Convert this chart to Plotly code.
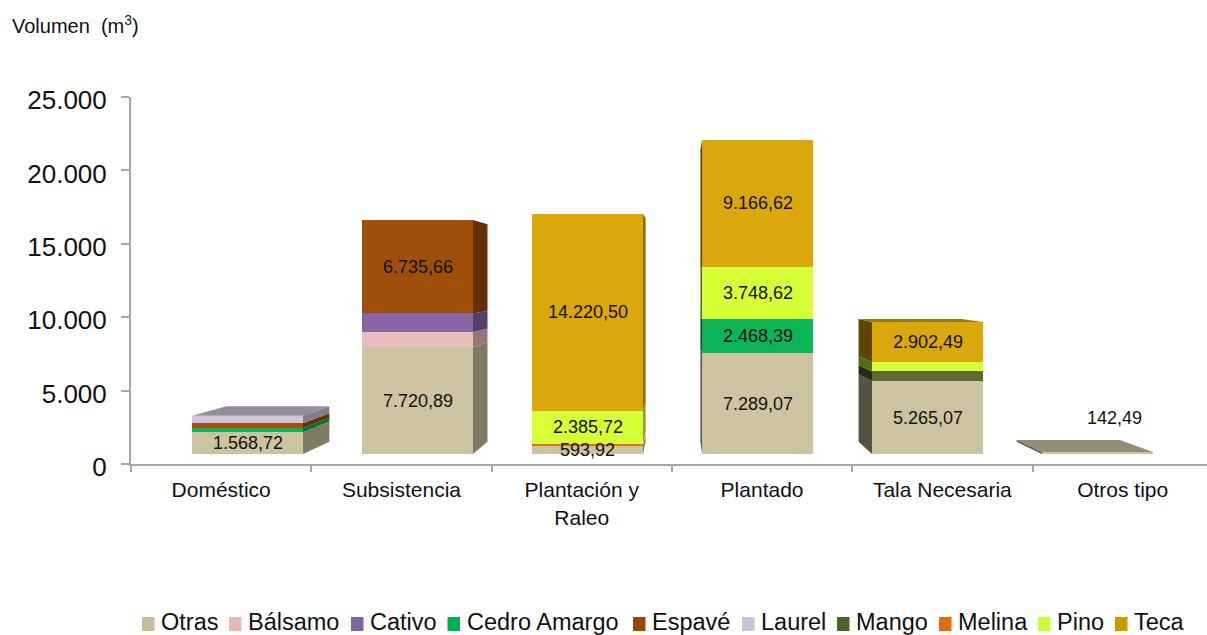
import plotly.graph_objects as go

W, H = 1207, 635
PLOT_L, PLOT_R, PLOT_T, PLOT_B = 131, 1207, 97, 464

categories = ["Doméstico", "Subsistencia", "Plantación y<br>Raleo", "Plantado", "Tala Necesaria", "Otros tipo"]
series_names = ["Otras", "Bálsamo", "Cativo", "Cedro Amargo", "Espavé", "Laurel", "Mango", "Melina", "Pino", "Teca"]

otras = [1568.72, 7720.89, 593.92, 7289.07, 5265.07, 142.49]
balsamo = [0, 1080, 0, 0, 0, 0]
cativo = [0, 1350, 0, 0, 0, 0]
cedro = [300, 0, 0, 2468.39, 0, 0]
espave = [350, 6735.66, 0, 0, 0, 0]
laurel = [550, 0, 0, 0, 0, 0]
mango = [0, 0, 0, 0, 700, 0]
melina = [0, 0, 150, 0, 0, 0]
pino = [0, 0, 2385.72, 3748.62, 670, 0]
teca = [0, 0, 14220.50, 9166.62, 2902.49, 0]
all_values = [otras, balsamo, cativo, cedro, espave, laurel, mango, melina, pino, teca]

# Values printed on the chart: estimated segments carry no label
labelled = [otras, [0] * 6, [0] * 6, [0, 0, 0, 2468.39, 0, 0],
            [0, 6735.66, 0, 0, 0, 0], [0] * 6, [0] * 6, [0] * 6,
            [0, 0, 2385.72, 3748.62, 0, 0], teca]

bar_colors = ["#CCC4A0", "#EBBCBC", "#8664A6", "#0CB558", "#A04F0B", "#CFC4DC", "#5C6B30", "#E8700C", "#D6FF36", "#DAA80D"]
legend_colors = ["#C8BF97", "#E6B8B7", "#8064A2", "#00B050", "#984807", "#CCC1DA", "#4F6228", "#E46C0A", "#CCFF33", "#CC9900"]
legend_square_px = [142, 229, 351, 447.5, 633, 742, 837, 939, 1038, 1115]

# Front plane of the pseudo-3D chart (its own scale, pixel-fitted to the picture)
CAT_PX, FRONT0_PX = 170.0, 247.5
VAL_PX, BASE_PX = 0.01385, 454.0
BAR_W = 0.653
VP_X = (680 - FRONT0_PX) / CAT_PX
VP_Y = (BASE_PX - 280) / VAL_PX
DEPTH = 0.07


def shade(col, f):
    c = col.lstrip("#")
    return "#%02X%02X%02X" % tuple(int(int(c[i:i + 2], 16) * f) for i in (0, 2, 4))


def back(x, y):
    return x + DEPTH * (VP_X - x), y + DEPTH * (VP_Y - y)


def fx(px):
    return (px - PLOT_L) / (PLOT_R - PLOT_L)


def fy(py):
    return (PLOT_B - py) / (PLOT_B - PLOT_T)


fig = go.Figure()

# Carrier of the visible category axis
fig.add_trace(go.Scatter(x=categories, y=[0] * 6, mode="lines", line=dict(width=0),
                         hoverinfo="skip", showlegend=False, xaxis="x", yaxis="y"))

# Front faces
for name, vals, col in zip(series_names, all_values, bar_colors):
    fig.add_trace(go.Bar(x=list(range(6)), y=vals, name=name, width=BAR_W, marker=dict(color=col, line=dict(width=0)),
                         xaxis="x2", yaxis="y2", showlegend=False))

# Perspective faces derived from the stacked values
annotations = []
cum = [0.0] * 6
heights = [sum(s[i] for s in all_values) for i in range(6)]
for name, vals, shown, col in zip(series_names, all_values, labelled, bar_colors):
    polys = {"right": ([], [], 0.63), "left": ([], [], 0.42), "top": ([], [], 0.72)}
    for i, v in enumerate(vals):
        lo, hi = cum[i], cum[i] + v
        cum[i] = hi
        if v == 0:
            continue
        xl, xr = i - BAR_W / 2, i + BAR_W / 2
        if xr < VP_X:
            edge, kind = xr, "right"
        elif xl > VP_X:
            edge, kind = xl, "left"
        else:
            edge = None
        if edge is not None:
            b1, b2 = back(edge, lo), back(edge, hi)
            polys[kind][0].extend([edge, b1[0], b2[0], edge, edge, None])
            polys[kind][1].extend([lo, b1[1], b2[1], hi, lo, None])
        if hi >= heights[i] - 1e-6 and hi < VP_Y:
            b1, b2 = back(xl, hi), back(xr, hi)
            polys["top"][0].extend([xl, b1[0], b2[0], xr, xl, None])
            polys["top"][1].extend([hi, b1[1], b2[1], hi, hi, None])
        if shown[i]:
            label = f"{shown[i]:,.2f}".replace(",", "#").replace(".", ",").replace("#", ".")
            isolated = heights[i] < 1000
            annotations.append(dict(x=i, y=lo + v / 2, xref="x2", yref="y2", text=label, showarrow=False,
                                    xshift=17 if isolated else 0, yshift=35 if isolated else 0,
                                    font=dict(size=18, color="#111111", family="Liberation Sans")))
    for kind, (xs, ys, f) in polys.items():
        if xs:
            fig.add_trace(go.Scatter(x=xs, y=ys, mode="lines", fill="toself", fillcolor=shade(col, f),
                                     line=dict(width=0), hoverinfo="skip", showlegend=False,
                                     xaxis="x2", yaxis="y2"))

# Unit label
annotations.append(dict(x=fx(10), y=fy(24), xref="paper", yref="paper", xanchor="left", yanchor="middle",
                        text="Volumen&nbsp;&nbsp;(m<sup>3</sup>)", showarrow=False,
                        font=dict(size=20, color="#111111", family="Liberation Sans")))

# Legend row
shapes = []
for name, col, px in zip(series_names, legend_colors, legend_square_px):
    shapes.append(dict(type="rect", xref="paper", yref="paper", x0=fx(px), x1=fx(px + 12.5),
                       y0=fy(631), y1=fy(617), fillcolor=col, line=dict(width=0)))
    annotations.append(dict(x=fx(px + 17), y=fy(622), xref="paper", yref="paper", xanchor="left", yanchor="middle",
                            text=name, showarrow=False,
                            font=dict(size=23.5, color="#111111", family="Liberation Sans")))

AXIS = "#A6A6A6"
fig.update_layout(
    width=W, height=H, autosize=False,
    margin=dict(l=PLOT_L, r=W - PLOT_R, t=PLOT_T, b=H - PLOT_B, pad=0),
    paper_bgcolor="white", plot_bgcolor="white",
    barmode="stack", showlegend=False, separators=",.",
    font=dict(family="Liberation Sans", color="#111111"),
    annotations=annotations, shapes=shapes,
    xaxis=dict(type="category", categoryorder="array", categoryarray=categories,
               range=[-0.5, -0.5 + (PLOT_R - PLOT_L) / 180.3], tickson="boundaries",
               ticks="outside", ticklen=6, tickwidth=2, tickcolor=AXIS,
               showline=True, linecolor=AXIS, linewidth=2, showgrid=False,
               tickfont=dict(size=21, color="#111111"), ticklabelstandoff=6, tickangle=0),
    yaxis=dict(range=[0, 25000], tickvals=[0, 5000, 10000, 15000, 20000, 25000], tickformat=",d",
               ticks="outside", ticklen=8, tickwidth=2, tickcolor=AXIS,
               showline=True, linecolor=AXIS, linewidth=2, showgrid=False, zeroline=False,
               tickfont=dict(size=26, color="#111111"), ticklabelstandoff=9, ticklabelshift=3),
    xaxis2=dict(overlaying="x", visible=False,
                range=[(PLOT_L - FRONT0_PX) / CAT_PX, (PLOT_R - FRONT0_PX) / CAT_PX]),
    yaxis2=dict(overlaying="y", visible=False,
                range=[(BASE_PX - PLOT_B) / VAL_PX, (BASE_PX - PLOT_T) / VAL_PX]),
)

fig.write_html("out.html", config=dict(displayModeBar=False),
               post_script="document.body.style.margin='0';document.body.style.overflow='hidden';")
